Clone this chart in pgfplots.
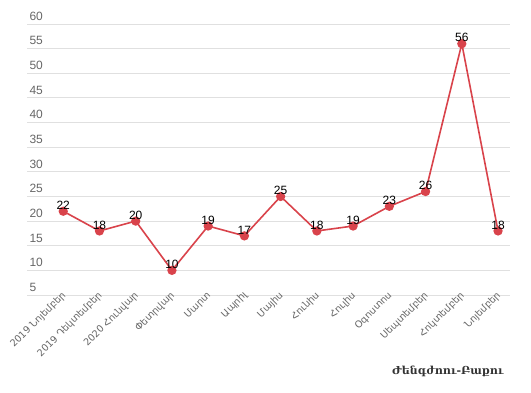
\documentclass[border=0pt]{standalone}
\usepackage{pgfplots}
\pgfplotsset{compat=1.18}
\usepackage{fontspec}
\setmainfont{Liberation Sans}
\newfontfamily\arm{DejaVu Sans}
\newfontfamily\armserif{DejaVu Serif}
\definecolor{linered}{HTML}{D9434B}
\definecolor{gridc}{HTML}{E0E0E0}
\definecolor{tickc}{HTML}{666666}
\begin{document}
\begin{tikzpicture}[x=1pt,y=1pt]
\begin{axis}[
  at={(27pt,97pt)}, anchor=south west,
  scale only axis, width=483pt, height=271pt,
  xmin=-1, xmax=12.33, ymin=5, ymax=60,
  axis line style={draw=none},
  ytick={5,10,...,60},
  ymajorgrids, grid style={gridc, line width=1pt},
  major tick length=0pt,
  yticklabel style={anchor=south west, xshift=-1pt, yshift=0pt, font=\fontsize{12}{12}\selectfont, text=tickc},
  /pgf/number format/assume math mode=true,
  xtick={0,...,12},
  xticklabels={2019 Նոյեմբեր,2019 Դեկտեմբեր,2020 Հունվար,Փետրվար,Մարտ,Ապրիլ,Մայիս,Հունիս,Հուլիս,Օգոստոս,Սեպտեմբեր,Հոկտեմբեր,Նոյեմբեր},
  xticklabel style={rotate=45, anchor=east, xshift=5pt, yshift=0pt, font=\arm\fontsize{9.6}{10}\selectfont, text=tickc},
  nodes near coords,
  every node near coord/.append style={font=\fontsize{12}{12}\selectfont, text=black, yshift=-2.5pt},
  clip=false,
]
\addplot[linered, line width=1.6pt, mark=*, mark size=3.8pt, mark options={fill=linered, draw=linered}]
coordinates {(0,22)(1,18)(2,20)(3,10)(4,19)(5,17)(6,25)(7,18)(8,19)(9,23)(10,26)(11,56)(12,18)};
\end{axis}
\node[anchor=east, font=\armserif\bfseries\fontsize{11}{12}\selectfont, text=black!80] at (507,21) {Ժենգժոու-Բաքու};
\pgfresetboundingbox
\path (0,0) rectangle (531,392);
\end{tikzpicture}
\end{document}
